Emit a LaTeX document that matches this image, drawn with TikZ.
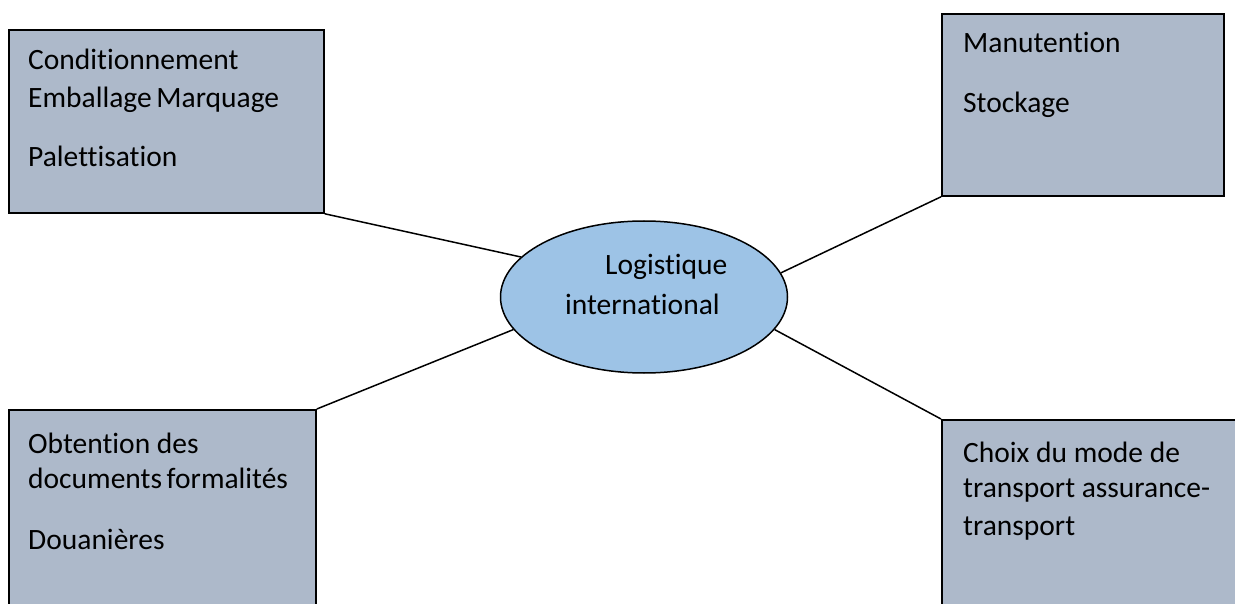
\documentclass[tikz,border=0pt]{standalone}
\usepackage{fontspec}
\setmainfont{Carlito}[Ligatures={NoCommon,NoContextual,NoRare},RawFeature={-clig}]
\usetikzlibrary{shapes.geometric}
\definecolor{boxfill}{HTML}{ADB9CA}
\definecolor{hubfill}{HTML}{9DC3E6}
\begin{document}
\begin{tikzpicture}[x=1pt,y=-1pt,
  box/.style={draw=black, line width=1.8pt, fill=boxfill, inner sep=0pt, anchor=north west},
  hub/.style={ellipse, draw=black, line width=1.5pt, fill=hubfill, inner sep=0pt,
              minimum width=287pt, minimum height=152pt},
  link/.style={draw=black, line width=1.5pt},
  txt/.style={anchor=base west, inner sep=0pt, font=\fontsize{29.5}{36}\selectfont}]
\useasboundingbox (0,0) rectangle (1235,604);
\clip (0,0) rectangle (1235,604);

% the four task boxes (the lower ones run past the page edge)
\node[box, minimum width=315pt, minimum height=183pt] (tl) at (8,29) {};
\node[box, minimum width=282pt, minimum height=182pt] (tr) at (941,13) {};
\node[box, minimum width=307pt, minimum height=215pt] (bl) at (8,409) {};
\node[box, minimum width=310pt, minimum height=205pt] (br) at (941,419) {};

% central ellipse
\node[hub] (hub) at (644,297) {};

% connectors
\draw[link] (tl.south east) -- (hub.162);
\draw[link] (hub.10) -- (tr.south west);
\draw[link] (hub.194) -- (bl.north east);
\draw[link] (hub.346) -- (br.north west);

% labels
\node[txt] (tla) at (28,70)  {Conditionnement};
\node[txt] (tlb) at (28,108) {Emballage\hspace{-2pt} Marquage};
\node[txt] (tlc) at (28,167) {Palettisation};

\node[txt] (tra) at (963,53)  {Manutention};
\node[txt] (trb) at (963,113) {Stockage};

\node[txt] (bla) at (28,453) {Obtention des};
\node[txt] (blb) at (28,488) {documents\hspace{-2pt} formalités};
\node[txt] (blc) at (28,549) {Douanières};

\node[txt] (bra) at (963,462) {Choix du mode de};
\node[txt] (brb) at (963,497) {transport assurance-};
\node[txt] (brc) at (963,535) {transport};

\node[txt] (hba) at (605,275) {Logistique};
\node[txt] (hbb) at (565,315) {international};
\end{tikzpicture}
\end{document}
